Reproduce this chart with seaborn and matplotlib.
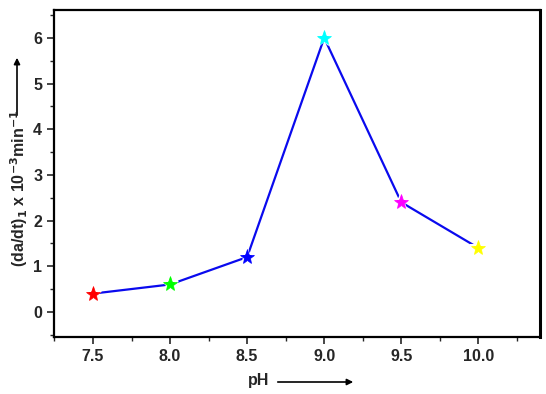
import matplotlib
matplotlib.use("Agg")
import matplotlib.pyplot as plt
import seaborn as sns
import pandas as pd
from matplotlib.ticker import MultipleLocator, FormatStrFormatter
from matplotlib.patches import FancyArrowPatch

ph = [7.5, 8.0, 8.5, 9.0, 9.5, 10.0]
rate = [0.4, 0.6, 1.2, 6.0, 2.4, 1.4]
colors = ["#ff0000", "#00ff00", "#0000ff", "#00ffff", "#ff00ff", "#ffff00"]

sns.set_style("ticks")
plt.rcParams['font.family'] = ['Liberation Sans', 'DejaVu Sans']
plt.rcParams['font.weight'] = 'bold'

df = pd.DataFrame({"pH": ph, "rate": rate})
fig = plt.figure(figsize=(5.46, 3.94), dpi=100)
ax = fig.add_axes([0.0989, 0.1447, 0.8901, 0.8299])

sns.lineplot(data=df, x="pH", y="rate", color="#0a0aee", lw=1.6, ax=ax, zorder=2)
for x, y, c in zip(ph, rate, colors):
    ax.plot([x], [y], marker="*", ms=12, color=c, mec="white", mew=1.5, zorder=3, ls="none")
    ax.plot([x], [y], marker="*", ms=11, color=c, mec=c, mew=0.5, zorder=4, ls="none")

ax.set_xlim(7.247, 10.40)
ax.set_ylim(-0.55, 6.61)
ax.xaxis.set_major_locator(MultipleLocator(0.5))
ax.xaxis.set_minor_locator(MultipleLocator(0.25))
ax.yaxis.set_major_locator(MultipleLocator(1))
ax.yaxis.set_minor_locator(MultipleLocator(0.5))
ax.xaxis.set_major_formatter(FormatStrFormatter('%.1f'))
ax.tick_params(which='major', direction='out', length=5, width=1.2, labelsize=11.5, top=False, right=False)
ax.tick_params(which='minor', direction='out', length=3, width=1.0, top=False, right=False)
for lab in ax.get_xticklabels() + ax.get_yticklabels():
    lab.set_fontweight('bold')
for s in ax.spines.values():
    s.set_visible(True)
    s.set_color('black')
    s.set_linewidth(1.6)
ax.spines['right'].set_linewidth(2.2)
ax.set_xlabel("")
ax.set_ylabel("")

fig.text(248/546, 1 - 381/394, "pH", fontsize=11.5, fontweight='bold', ha='left', va='center')
fig.add_artist(FancyArrowPatch((275/546, 1 - 382/394), (356/546, 1 - 382/394),
               transform=fig.transFigure, arrowstyle='-|>', mutation_scale=9, lw=1.2, color='black'))
fig.text(19/546, 1 - 188/394, r"(da/dt)$_\mathbf{1}$ x 10$^\mathbf{-3}$min$^\mathbf{-1}$", fontsize=11.5,
         fontweight='bold', rotation=90, ha='center', va='center')
fig.add_artist(FancyArrowPatch((17/546, 1 - 118/394), (17/546, 1 - 55/394),
               transform=fig.transFigure, arrowstyle='-|>', mutation_scale=9, lw=1.2, color='black'))

fig.savefig("out.png", dpi=100)
